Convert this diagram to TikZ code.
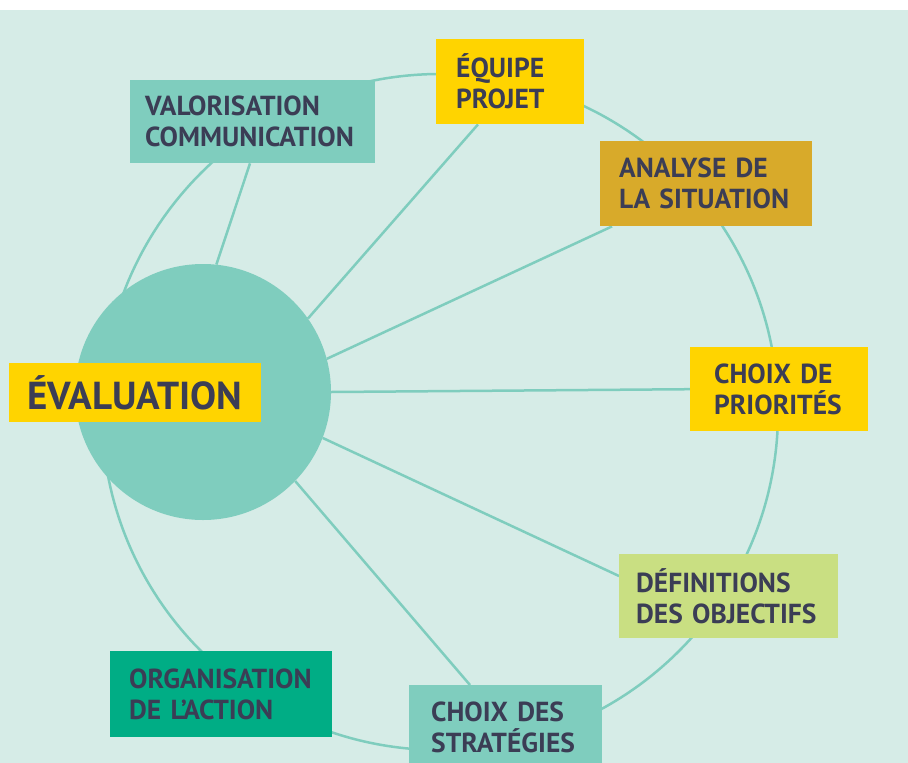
\documentclass[tikz,border=0pt]{standalone}
\usepackage{fontspec}
\setmainfont{PT Sans}
\usetikzlibrary{calc}
\definecolor{bgc}{HTML}{D6ECE7}
\definecolor{tealc}{HTML}{7FCDBE}
\definecolor{yellowc}{HTML}{FFD400}
\definecolor{ochrec}{HTML}{D8AA2A}
\definecolor{limec}{HTML}{C9DF82}
\definecolor{greenc}{HTML}{00AD85}
\definecolor{textc}{HTML}{3B3D55}
\pgfdeclarelayer{back}
\pgfdeclarelayer{lines}
\pgfsetlayers{back,lines,main}
\begin{document}
\begin{tikzpicture}[x=1pt,y=-1pt,
  link/.style={draw=tealc, line width=2.5pt},
  tbox/.style={rectangle, anchor=north west, align=left, inner ysep=0pt,
    text=textc, font=\bfseries\fontsize{27.5}{31}\selectfont}]
\useasboundingbox (0,0) rectangle (908,763);
\begin{pgfonlayer}{back}
\fill[white] (0,0) rectangle (908,10);
\fill[bgc] (0,10) rectangle (908,763);
\end{pgfonlayer}
\node[circle, fill=tealc, minimum size=256pt, inner sep=0pt] (c) at (203,392) {};
\node[tbox, fill=tealc, minimum height=83pt, inner xsep=15pt, text width=215pt] (val) at (130,80) {VALORISATION\\COMMUNICATION};
\node[tbox, fill=yellowc, minimum height=85pt, inner xsep=20pt, text width=108pt] (eq) at (436,39) {ÉQUIPE\\PROJET};
\node[tbox, fill=ochrec, minimum height=85pt, inner xsep=19pt, text width=174pt] (an) at (600,141) {ANALYSE~DE\\LA~SITUATION};
\node[tbox, fill=yellowc, minimum height=84pt, inner xsep=24pt, text width=130pt] (prio) at (690,347) {CHOIX~DE\\PRIORITÉS};
\node[tbox, fill=limec, minimum height=84pt, inner xsep=17pt, text width=185pt] (def) at (619,554) {DÉFINITIONS\\DES~OBJECTIFS};
\node[tbox, fill=tealc, minimum height=85pt, inner xsep=22pt, text width=149pt] (str) at (409,685) {CHOIX~DES\\STRATÉGIES};
\node[tbox, fill=greenc, minimum height=86pt, inner xsep=19pt, text width=184pt] (org) at (110,651) {ORGANISATION\\DE~L’ACTION};
\node[tbox, fill=yellowc, minimum height=59pt, inner xsep=18pt, text width=216pt, font=\bfseries\fontsize{39}{42}\selectfont] (ev) at (9,363) {ÉVALUATION};
\begin{pgfonlayer}{lines}
\coordinate (rc) at (440,412);
\draw[link] (rc) circle[radius=338pt];
\draw[link] (c.84) -- ($(val.south west)+(120,0)$);
\draw[link] (c.35) -- ($(eq.south west)+(42,0)$);
\draw[link] (c.15.5) -- ($(an.south west)+(12,0)$);
\draw[link] (c.0) -- (prio.west);
\draw[link] (c.-21.5) -- ($(def.north west)+(0,22)$);
\draw[link] (c.-44) -- ($(str.north west)+(61,0)$);
\end{pgfonlayer}
\end{tikzpicture}
\end{document}
